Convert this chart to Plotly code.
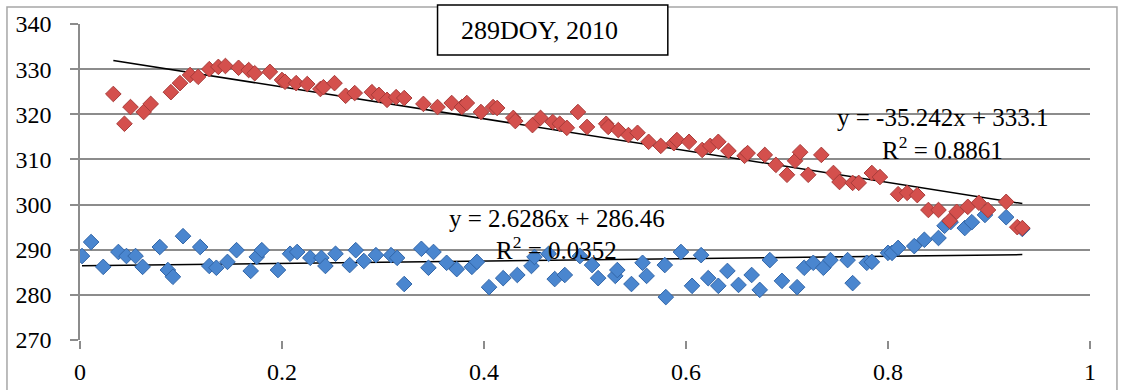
import plotly.graph_objects as go
import numpy as np

# Red series (upper)
red_x = [0.033, 0.044, 0.050, 0.063, 0.070, 0.090, 0.099, 0.109, 0.117, 0.128, 0.137, 0.144, 0.157, 0.167,
         0.173, 0.188, 0.200, 0.203, 0.214, 0.225, 0.238, 0.241, 0.252, 0.263, 0.272, 0.289, 0.296, 0.304,
         0.313, 0.321, 0.340, 0.354, 0.368, 0.378, 0.383, 0.397, 0.409, 0.413, 0.429, 0.431, 0.448, 0.456,
         0.468, 0.475, 0.482, 0.493, 0.502, 0.521, 0.523, 0.533, 0.543, 0.552, 0.563, 0.575, 0.588, 0.591,
         0.603, 0.616, 0.624, 0.632, 0.642, 0.658, 0.661, 0.678, 0.689, 0.700, 0.708, 0.713, 0.721, 0.734,
         0.746, 0.752, 0.765, 0.771, 0.784, 0.792, 0.810, 0.819, 0.829, 0.840, 0.850, 0.861, 0.868, 0.879,
         0.890, 0.899, 0.917, 0.928, 0.933]
red_y = [324.5, 317.9, 321.6, 320.5, 322.3, 324.9, 326.9, 328.7, 328.3, 330.0, 330.5, 330.7, 330.3, 329.8,
         329.1, 329.4, 327.6, 327.2, 326.9, 326.7, 325.6, 326.0, 326.9, 324.1, 324.7, 324.9, 324.3, 323.2,
         323.8, 323.6, 322.3, 321.6, 322.5, 321.6, 322.5, 320.5, 321.6, 321.4, 319.2, 318.5, 317.6, 319.2,
         318.3, 317.9, 317.0, 320.5, 317.2, 317.9, 317.2, 316.5, 315.4, 315.9, 313.9, 313.0, 313.6, 314.3,
         313.9, 312.1, 313.0, 313.9, 311.9, 310.8, 311.4, 311.0, 308.8, 306.6, 309.7, 311.6, 306.6, 311.0,
         307.0, 305.0, 304.8, 304.8, 307.0, 306.1, 302.3, 302.6, 302.1, 298.8, 298.8, 296.4, 298.4, 299.5,
         300.4, 298.8, 300.6, 295.0, 294.8]

# Blue series (lower)
blue_x = [0.002, 0.011, 0.023, 0.038, 0.046, 0.055, 0.062, 0.079, 0.087, 0.092, 0.102, 0.119, 0.128, 0.135,
          0.146, 0.155, 0.169, 0.175, 0.180, 0.196, 0.208, 0.215, 0.228, 0.239, 0.243, 0.253, 0.267, 0.273,
          0.281, 0.293, 0.308, 0.314, 0.321, 0.338, 0.345, 0.350, 0.363, 0.373, 0.388, 0.393, 0.405, 0.419,
          0.433, 0.447, 0.450, 0.464, 0.470, 0.480, 0.495, 0.507, 0.513, 0.530, 0.532, 0.546, 0.557, 0.561,
          0.579, 0.580, 0.595, 0.606, 0.615, 0.622, 0.632, 0.641, 0.652, 0.665, 0.673, 0.683, 0.695, 0.710,
          0.717, 0.726, 0.736, 0.743, 0.760, 0.765, 0.779, 0.784, 0.800, 0.804, 0.810, 0.826, 0.836, 0.850,
          0.856, 0.862, 0.876, 0.883, 0.896, 0.917, 0.933]
blue_y = [288.6, 291.7, 286.2, 289.5, 288.6, 288.6, 286.2, 290.6, 285.5, 284.0, 293.0, 290.6, 286.4, 286.0,
          287.3, 289.9, 285.3, 288.4, 289.9, 285.5, 289.1, 289.5, 288.2, 288.2, 286.4, 289.1, 286.6, 289.9,
          287.5, 288.8, 288.8, 288.2, 282.4, 290.2, 286.0, 289.5, 287.1, 285.7, 286.2, 287.3, 281.7, 283.7,
          284.4, 286.4, 288.4, 289.1, 283.5, 284.4, 288.6, 286.6, 283.7, 284.2, 285.5, 282.4, 287.1, 284.2,
          286.6, 279.5, 289.5, 282.0, 288.8, 283.7, 282.0, 285.3, 282.2, 284.4, 281.1, 287.7, 283.1, 281.7,
          286.0, 287.1, 286.0, 287.7, 287.7, 282.6, 287.1, 287.3, 289.3, 289.3, 290.4, 290.8, 292.2, 292.6,
          295.3, 296.1, 294.8, 296.1, 297.7, 297.2, 294.6]

# Trend line coefficients (as printed on the chart)
red_slope, red_icpt, red_r2 = -35.242, 333.1, 0.8861
blue_slope, blue_icpt, blue_r2 = 2.6286, 286.46, 0.0352

title_text = "289DOY, 2010"
x_ticks = [0, 0.2, 0.4, 0.6, 0.8, 1]
x_tick_labels = ["0", "0.2", "0.4", "0.6", "0.8", "1"]
y_ticks = [270, 280, 290, 300, 310, 320, 330, 340]

RED_FILL, RED_LINE = "#D4504D", "#A83C3A"
BLUE_FILL, BLUE_LINE = "#4A86CF", "#3266A8"
GRID = "#8C8C8C"
SERIF = "Liberation Serif"

fig = go.Figure()

# trend lines
for xs, m, b in [(red_x, red_slope, red_icpt), (blue_x, blue_slope, blue_icpt)]:
    tx = np.array([min(xs), max(xs)])
    fig.add_trace(go.Scatter(x=tx, y=m * tx + b, mode="lines",
                             line=dict(color="black", width=1.5), showlegend=False, hoverinfo="skip"))

fig.add_trace(go.Scatter(x=blue_x, y=blue_y, mode="markers", showlegend=False,
                         marker=dict(symbol="diamond", size=12, color=BLUE_FILL,
                                     line=dict(color=BLUE_LINE, width=1))))
fig.add_trace(go.Scatter(x=red_x, y=red_y, mode="markers", showlegend=False,
                         marker=dict(symbol="diamond", size=12, color=RED_FILL,
                                     line=dict(color=RED_LINE, width=1))))

eq_font = dict(family=SERIF, size=25, color="black")
for (ax, ay, txt) in [(0.854, 319.3, f"y = {red_slope}x + {red_icpt}"),
                      (0.854, 312.6, f"R<sup>2</sup> = {red_r2}"),
                      (0.472, 296.9, f"y = {blue_slope}x + {blue_icpt}"),
                      (0.472, 290.3, f"R<sup>2</sup> = {blue_r2}")]:
    fig.add_annotation(x=ax, y=ay, xref="x", yref="y", text=txt, showarrow=False, font=eq_font,
                       xanchor="center", yanchor="middle")

# title box
fig.add_shape(type="rect", xref="paper", yref="paper", x0=0.354, x1=0.582, y0=0.902, y1=1.060,
              fillcolor="white", line=dict(color="black", width=1.5), layer="above")
fig.add_annotation(x=0.455, y=0.981, xref="paper", yref="paper", text=title_text, showarrow=False,
                   xanchor="center", yanchor="middle",
                   font=dict(family=SERIF, size=26, color="black"))

# outer chart border
fig.add_shape(type="rect", xref="paper", yref="paper", x0=-0.0723, x1=1.0267, y0=-0.2, y1=1.0538,
              line=dict(color="#A6A6A6", width=1.5), fillcolor="rgba(0,0,0,0)", layer="below")

fig.update_layout(
    width=1121, height=390,
    margin=dict(l=80, r=31, t=24, b=50),
    paper_bgcolor="white", plot_bgcolor="white",
    font=dict(family=SERIF, size=24, color="black"),
    xaxis=dict(range=[0, 1], tickvals=x_ticks, ticktext=x_tick_labels, showgrid=False, zeroline=False,
               showline=False, ticks="outside", ticklen=8, tickcolor=GRID, tickwidth=1.5,
               ticklabelstandoff=2, automargin=False),
    yaxis=dict(range=[270, 340], tickvals=y_ticks, showgrid=True, gridcolor=GRID, gridwidth=1.5,
               zeroline=False, showline=True, linecolor=GRID, linewidth=1.5,
               ticks="outside", ticklen=8, tickcolor=GRID, tickwidth=1.5, ticklabelstandoff=14,
               automargin=False),
)

fig.write_html("out.html", config={"displayModeBar": False},
               post_script="document.body.style.margin='0';document.body.style.overflow='hidden';")
